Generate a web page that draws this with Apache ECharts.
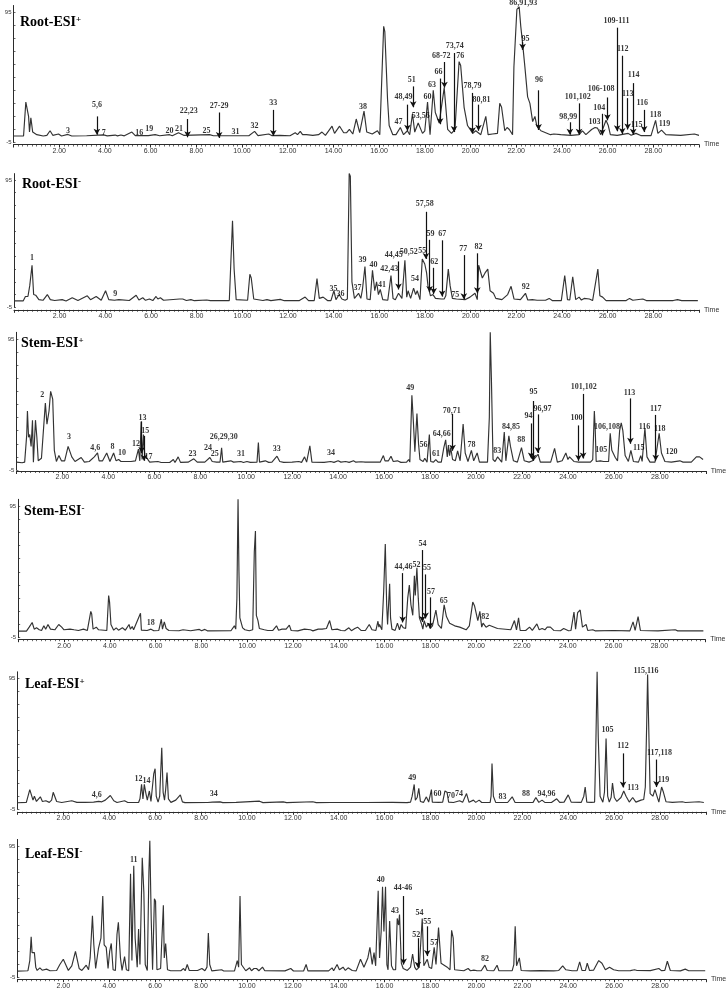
<!DOCTYPE html>
<html><head><meta charset="utf-8">
<style>html,body{margin:0;padding:0;background:#fff}#c{width:727px;height:992px}</style>
<script src="https://cdn.jsdelivr.net/npm/echarts@6/dist/echarts.min.js"></script>
</head><body><div id="c"></div>
<script>
// Traces: flat t,v pairs
const rootPosTrace=[0,0,.44,0,.54,26,.66,15,.7,3,.76,14,.84,3,.92,3,1.02,1,1.3,0,1.38,1.5,1.46,.5,1.6,4,1.72,.5,1.97,1.5,2.1,0,2.38,1.2,2.55,0,3.2,.2,3.94,.8,4.1,.1,4.45,.7,4.55,.1,4.7,.8,4.85,.1,5.18,3,5.33,.3,5.9,.3,6.2,1,6.4,.2,6.83,1,6.95,.2,7.22,2.5,7.45,.5,8.58,1,8.75,.2,10.3,.2,10.55,3.5,10.7,.3,11.17,1.5,11.3,.3,11.65,.5,12.1,.2,12.33,2.5,12.43,1,12.55,3.5,12.65,1,12.73,2,12.82,1,12.9,2,13.1,.5,13.35,1,13.5,3,13.65,.5,13.94,7.5,14.05,2,14.27,7.5,14.45,2.5,14.5,4,14.58,2.5,14.7,5,14.85,1.5,15,13,15.15,2.5,15.34,19,15.46,3,15.7,1.5,15.93,4,16.03,1,16.2,84,16.25,80,16.37,28,16.44,8,16.6,1,16.74,1,16.93,6.5,17.07,1,17.24,4,17.34,1,17.46,17,17.56,3,17.71,10,17.9,2,18,4,18.12,26,18.23,1,18.37,35,18.46,18,18.63,10,18.85,37,19,5,19.17,2,19.32,5,19.5,57,19.57,54,19.72,22,19.87,8,20.1,2,20.23,4,20.45,1,20.67,15,20.77,1,20.96,1.5,21.18,2,21.28,25,21.36,22,21.5,4,21.6,6.5,21.7,5,21.84,1,21.9,53,22.03,97,22.13,99,22.2,84,22.28,71,22.38,53,22.5,30,22.6,25,22.72,11,22.82,15,22.9,8,23.08,4,23.5,1,23.65,1.5,23.95,1,24.4,.5,24.75,1,24.9,4,25.05,1,25.3,5,25.45,6.5,25.56,6,25.7,1,25.93,12,26.03,8,26.12,1,26.42,.5,26.9,2,27.03,.5,27.24,2,27.45,.3,27.9,.3,28.1,12,28.2,2,28.36,4.5,28.55,1,29.2,.5,29.8,1.5,30,.5];
const rootNegTrace=[0,0,.4,0,.5,3.5,.61,3.5,.69,12,.79,28,.86,5,.95,4.5,1.09,1,1.27,.5,1.46,5,1.59,1,1.78,.3,2.11,1,2.28,0,2.55,2.5,2.8,.3,3.21,4,3.35,1,3.6,3.5,3.82,.5,4.01,8,4.15,1,4.4,.5,4.59,1,5.05,.3,5.35,4.5,5.47,.7,5.64,2.5,5.76,.5,5.93,1.5,6.08,.3,6.22,3.5,6.3,1.5,6.41,2.5,6.55,.5,7.25,1.5,7.39,1.5,7.55,.3,7.75,1,7.9,.2,8.44,.7,8.6,.2,9.43,.3,9.57,63,9.64,25,9.73,1,10.23,.5,10.33,21,10.39,18,10.5,1.5,10.9,.3,11.08,1,11.25,.2,11.66,1.2,11.84,.2,12.5,.3,12.75,3,12.9,.3,13.15,.3,13.27,17.5,13.37,2,13.54,3,13.73,.3,13.88,.3,14.01,8,14.1,1,14.24,5,14.36,1.5,14.5,.5,14.6,1.5,14.68,100,14.73,98,14.8,15,14.91,2,15.09,6,15.19,2,15.26,9,15.37,27,15.46,1.5,15.6,1,15.7,24,15.8,8,15.88,15,15.96,5,16.04,9,16.15,1,16.37,.5,16.51,20,16.6,2,16.7,1,16.84,6,16.99,2,17.12,32,17.2,3,17.26,8,17.37,2,17.5,10,17.59,5,17.66,8,17.78,1,17.88,33,17.99,29,18.07,22,18.13,12,18.24,4,18.35,5,18.46,2,18.72,1.5,18.84,1.5,18.91,4,19.02,25,19.1,12,19.2,2,19.38,1.5,19.75,1,19.97,3,20.19,6,20.29,1,20.35,28,20.41,29,20.51,18,20.63,22,20.75,25,20.85,8,21,6,21.1,2,21.37,1,21.62,5,21.77,11.5,21.9,1.5,22.18,1,22.4,6,22.5,.7,22.7,1,22.91,.5,23.28,.5,23.44,2,23.57,.3,23.97,.3,24.12,20,24.24,1,24.34,.7,24.47,19,24.6,1,24.75,3,24.85,.7,24.97,2,25.04,.5,25.2,1.5,25.34,.3,25.57,25,25.66,4,25.78,3,25.93,.3,26.81,.3,26.96,2,27.1,.5,27.54,1.5,27.69,.3,28.87,.3,29.06,1,29.24,.2,29.95,.2];
const stemPosTrace=[0,1,.25,.5,.36,1,.45,22,.48,40,.53,20,.58,22,.64,13,.7,33,.74,1,.83,33,.89,20,.95,2,1.09,4,1.17,5,1.26,46,1.33,30,1.42,40,1.49,55,1.58,49,1.65,10,1.74,1.5,1.85,6,1.96,2,2.1,2,2.25,13,2.32,14,2.41,5,2.55,1.5,2.82,4.5,2.96,1,3.17,1.5,3.39,5,3.53,8,3.6,2,3.75,2,3.93,8,4.07,1.5,4.23,8,4.34,2,4.45,3,4.55,1.5,4.66,1.5,4.99,1.5,5.18,2,5.31,11,5.37,2,5.43,32,5.47,3,5.53,22,5.59,5,5.68,4,5.8,1,6.16,1.5,6.3,.7,6.67,.7,6.83,3,6.9,.7,7.04,5,7.14,.8,7.47,1,7.72,3.5,7.87,1,8.2,1,8.42,4.5,8.52,1.5,8.71,1,8.86,1,8.93,12,8.98,1,9.33,2,9.45,1,9.77,1.5,9.88,.7,10.03,1.5,10.18,.8,10.47,1,10.53,16,10.58,1,10.83,2,10.98,.8,11.12,1,11.34,5.5,11.46,1.5,11.53,3,11.63,.8,12,1,12.29,1.5,12.41,.8,12.54,5,12.63,1,12.77,13.5,12.86,1,13.39,.8,13.68,1.5,13.82,.8,14,2,14.12,1,14.33,1.5,14.48,.8,14.67,2,14.77,1,15,1.3,15.18,1,15.57,1,15.83,1,15.97,6,16.04,2,16.12,2.5,16.19,2,16.3,5.5,16.4,1.5,16.58,2,16.73,.8,16.98,1,17.07,3,17.12,1,17.21,52,17.28,30,17.34,9,17.43,38,17.5,15,17.56,3,17.7,1.5,17.77,4,17.87,1,17.97,22,18.03,1.5,18.15,1,18.25,3,18.35,1,18.42,2,18.49,1,18.6,12,18.68,18,18.75,5,18.8,14,18.85,6,18.9,12,18.98,3,19.1,2,19.2,9.5,19.31,2,19.44,30,19.53,8,19.65,1.5,19.8,10,19.9,2,20.05,8,20.15,1,20.5,1,20.58,35,20.62,100,20.67,65,20.74,3,20.83,1.5,20.94,5,21.12,1,21.23,24,21.3,2,21.43,21,21.5,13,21.55,12,21.63,2,21.8,1,21.98,12,22.1,2,22.31,1,22.46,2,22.53,1,22.7,7,22.8,1,23.25,1,23.42,11.5,23.54,1,23.75,2,23.91,8,24,3,24.07,5,24.26,1.5,24.47,1,24.62,1,24.98,1,25.08,3,25.15,40,25.19,25,25.23,1.5,25.41,2,25.55,1.5,25.62,2,25.77,1.5,25.84,23,25.91,10,26.06,4.5,26.16,2,26.25,25,26.32,31,26.39,25,26.49,6,26.63,1.5,26.74,10,26.85,1.5,27.07,1,27.17,6,27.23,1.5,27.35,27,27.44,5,27.57,1,27.79,1,27.97,23,28.07,8,28.22,1.5,28.5,1,28.87,2,29.01,1,29.37,1,29.59,5,29.73,5,29.88,3];
const stemNegTrace=[0,0,.36,0,.48,3,.61,6.5,.7,1.5,.8,2.5,.92,1,1.02,.5,1.12,4,1.2,1.5,1.3,5,1.41,1.5,1.6,1,1.77,5,1.9,3,2,1,2.26,1.5,2.44,1,2.63,.5,2.85,1.5,3.02,.5,3.17,15,3.21,13,3.27,1.5,3.41,3,3.51,1,3.87,.5,3.95,27,3.99,22,4.05,5,4.17,.7,4.28,2.5,4.38,.7,4.55,2.5,4.68,.7,4.84,5,4.9,1.5,4.98,3.5,5.04,1,5.34,13.5,5.38,.7,5.63,.5,5.8,1.5,5.92,.3,6.14,.5,6.25,9,6.3,1.5,6.38,7,6.46,2,6.58,.5,7.02,.3,7.2,1,7.53,.3,7.91,1.3,8.01,.2,8.15,1.3,8.26,.2,9.29,.3,9.44,4,9.5,1.5,9.55,25,9.6,100,9.64,45,9.68,10,9.73,9,9.8,2.5,9.9,1,10.09,.3,10.24,1,10.31,60,10.36,76,10.4,12,10.47,8,10.53,2,10.75,1,10.9,.5,11.12,.5,11.28,4,11.37,.7,11.52,1.5,11.6,.5,11.7,1.5,11.75,.5,11.84,4.5,11.92,.5,12.21,.2,12.5,1.5,12.58,.2,12.76,1,12.87,.2,13.1,1.5,13.17,.2,13.27,1.5,13.33,.2,13.46,2,13.6,8,13.7,1,13.93,1.5,14.1,.5,14.26,.3,14.44,2.5,14.55,.3,14.7,2,14.82,3,14.97,.5,15.16,.5,15.33,5,15.45,1,15.62,.5,15.71,7.5,15.75,3,15.78,5,15.88,1,15.96,30,16.03,66,16.09,20,16.13,5,16.22,36,16.26,10,16.32,1.5,16.46,.5,16.56,6,16.65,1,16.72,5,16.82,2.5,16.92,2,17.01,25,17.08,35,17.15,20,17.23,12,17.3,42,17.34,27,17.41,48,17.47,25,17.52,10,17.62,5,17.67,1.5,17.73,8,17.82,3,17.93,6,17.99,2,18.09,4,18.24,16,18.34,5,18.48,2,18.6,20,18.7,11,18.84,6,19.06,4,19.28,3,19.56,1,19.7,4,19.85,22,19.93,19,20.07,8,20.16,15,20.24,3,20.3,6,20.43,3,20.57,4.5,20.93,2,21.51,1,21.58,.3,21.67,8,21.76,1,21.85,10,21.92,.5,22.16,.5,22.33,3,22.45,.5,22.65,5.5,22.75,1,22.88,2,23,1,23.1,3,23.24,3,23.39,.5,23.68,.3,23.82,2,24.03,.3,24.14,.5,24.27,14.5,24.34,1.5,24.43,14,24.54,16,24.64,3,24.8,5,24.87,.5,25.09,1,25.19,.2,25.98,.5,26.05,.2,26.71,.2,26.76,.3,26.85,7,26.94,.5,27.07,11,27.17,.5,27.94,.2,28.69,1,28.8,.2,29.92,.2];
const leafPosTrace=[0,0,.39,.3,.46,1,.54,10,.61,6,.68,2,.74,5,.83,1,.9,.8,1,4.5,1.09,1,1.24,1.5,1.39,.3,1.49,2,1.56,8,1.6,8,1.71,1,1.93,.2,2.37,1.5,2.59,.3,2.95,.3,3.32,.5,3.54,1,3.68,.7,3.83,2,4.05,5.5,4.2,1.5,4.34,.2,4.67,1.5,4.81,.2,5.28,.2,5.34,3,5.41,14,5.47,3,5.53,14,5.6,7,5.66,2,5.75,9,5.82,1,5.88,.5,5.94,22,6,26,6.05,5,6.13,.5,6.2,5,6.29,42,6.35,8,6.41,2,6.46,10,6.52,23,6.58,3,6.69,.3,6.9,2,6.98,.5,7.1,6,7.19,.7,7.3,.1,8.29,.2,8.5,.5,8.58,.2,8.83,.7,8.95,.1,9.53,.3,9.61,.1,10.55,1.2,10.7,.1,11.58,.7,11.73,.1,12.87,.8,13.02,.1,13.64,.2,14.07,.2,14.7,.2,15.18,.2,16.33,.3,16.98,.1,17.13,.5,17.2,5,17.29,14,17.34,2,17.42,4,17.49,11,17.56,1,17.7,.3,17.82,4.5,17.92,.5,17.99,2,18.04,10,18.08,.5,18.36,.3,18.53,.5,18.63,9,18.72,8,18.79,.5,19,.2,19.27,1.5,19.4,.3,19.57,7,19.68,.3,19.87,2,19.97,.3,20.12,2,20.23,.2,20.6,.3,20.64,5,20.68,30,20.74,5,20.84,.3,21.17,.2,21.36,.2,21.56,4.5,21.68,.3,22.18,.2,22.47,.3,22.59,4,22.72,.3,22.86,2,22.98,.3,23.27,.2,23.5,3,23.63,.3,23.82,.5,24,6,24.13,.5,24.57,.3,24.68,5,24.74,12,24.81,.5,25,.3,25.15,.5,25.19,30,25.26,100,25.31,50,25.39,5,25.51,.4,25.58,8,25.65,49,25.72,5,25.79,.5,25.87,4,25.93,15,26.01,4,26.12,1,26.3,4,26.42,9,26.52,5,26.66,.5,26.81,4,26.95,.5,27.17,2,27.29,2.5,27.36,12,27.42,60,27.46,98,27.5,65,27.57,7,27.69,5,27.78,10,27.85,11,27.95,.5,28.07,12,28.15,8,28.26,.8,28.54,.3,28.97,.8,29.11,.2,29.7,.8,29.91,.2];
const leafNegTrace=[0,0,.46,.3,.54,8,.6,26,.64,14,.68,14,.74,14,.8,3,.86,.5,.98,2.5,1.08,.7,1.27,1.5,1.42,.3,1.71,.5,1.85,5,2,9,2.07,9,2.22,.5,2.37,4,2.41,3,2.53,15,2.59,15,2.69,2,2.81,.5,3,4.5,3.1,1,3.17,10,3.27,42,3.33,20,3.41,2,3.53,17,3.64,25,3.72,57,3.78,20,3.87,18,3.95,2,4.02,15,4.09,21,4.17,1,4.27,.5,4.34,28,4.4,37,4.49,10,4.56,.5,4.67,11,4.75,1,4.85,.3,4.93,74,4.99,8,5.07,80,5.13,25,5.22,3,5.28,32,5.34,5,5.44,86,5.51,60,5.57,5,5.66,.5,5.73,75,5.77,99,5.83,40,5.89,1,5.97,55,6.02,53,6.08,1,6.24,2,6.36,50,6.4,10,6.46,21,6.54,1,6.68,.3,7.12,.3,7.24,2,7.31,.3,7.4,5,7.49,.5,7.85,.5,8.04,2,8.17,.3,8.26,3,8.32,29,8.38,5,8.47,.2,8.9,1,8.99,.1,9.46,.2,9.58,8,9.64,3,9.7,57,9.76,5,9.83,4,9.95,.3,10.12,2.5,10.2,.3,10.31,2,10.42,2,10.52,.3,10.68,3,10.78,.3,11.66,.2,11.91,2,12.03,.1,12.47,.1,12.58,5,12.66,.2,13.56,.2,13.71,2.5,13.78,.3,13.93,5,14.03,1,14.19,3,14.29,.5,14.41,2.5,14.59,.5,14.76,.2,14.95,9,15.1,3,15.17,2,15.27,10,15.36,18,15.46,5,15.54,14,15.61,4,15.68,3,15.72,61,15.78,10,15.85,30,15.91,64,15.97,30,16.04,64,16.1,5,16.15,1,16.22,38,16.3,4,16.38,1,16.48,1,16.55,40,16.61,35,16.65,43,16.73,6,16.81,2,16.99,.5,17.13,3,17.22,13,17.31,3,17.39,1,17.51,3,17.64,40,17.71,4,17.86,9,17.94,3,18.05,2,18.16,18,18.24,5,18.35,33,18.46,6,18.73,3,18.85,1,18.92,31,18.99,25,19.05,1,19.45,.3,19.64,2,19.74,.3,19.89,.7,20.03,.3,20.21,.3,20.37,4.5,20.47,.5,20.76,.3,20.9,4.5,20.98,.3,21.56,.3,21.63,5,21.69,34,21.75,4,21.79,3,21.87,10,21.95,.5,22.36,.2,22.79,.4,23.37,.2,23.59,.5,23.76,4,23.9,1,23.98,1.5,24.17,.3,24.39,.4,24.5,7,24.6,.5,24.75,.5,24.83,6,24.93,.5,25.11,.8,25.33,8,25.47,6,25.62,1,25.8,3,25.98,1,26.2,.3,26.71,.4,26.89,1,27,.5,27.58,.4,27.95,2,28.06,.4,28.21,.5,28.32,7.5,28.45,.5,28.89,.2,29.1,1.5,29.25,.3,29.97,.3];

// Peak labels: text, t, value
const rootPosLabels=[['3',2.39,4],['5,6',3.65,23.6],['7',3.95,2.5],['16',5.5,2],['19',5.94,5.5],['20',6.83,4],['21',7.24,5.4],['22,23',7.67,19],['25',8.45,4],['27-29',9,23],['31',9.72,2.8],['32',10.55,7.7],['33',11.37,25],['38',15.3,22.5],['47',16.85,11],['48,49',17.07,30],['51',17.43,43],['53,56',17.82,15.4],['60',18.12,30],['63',18.32,39],['66',18.6,49],['68-72',18.72,61.5],['73,74',19.31,68.7],['76',19.55,61],['78,79',20.09,38.7],['80,81',20.48,28],['86,91,93',22.31,102],['95',22.41,74],['96',23,43],['98,99',24.28,14.6],['101,102',24.69,30],['103',25.43,11],['104',25.64,21.5],['106-108',25.72,36],['109-111',26.39,88],['112',26.66,67],['113',26.88,32.5],['114',27.14,47],['115',27.27,8.5],['116',27.52,25],['118',28.1,16.4],['119',28.49,9.5]];
const rootNegLabels=[['1',.79,34],['9',4.43,5.2],['35',13.99,9.4],['36',14.3,5.8],['37',15.04,10],['39',15.26,32],['40',15.74,28],['41',16.12,12.5],['42,43',16.43,25],['44,45',16.63,36],['50,52',17.29,38.7],['55',17.88,39],['54',17.56,17.5],['57,58',17.99,76],['59',18.24,53],['62',18.4,31],['67',18.76,53],['75',19.32,5],['77',19.68,40.6],['82',20.34,42.4],['92',22.41,10.7]];
const stemPosLabels=[['2',1.12,52],['3',2.29,20],['4,6',3.43,12],['8',4.18,12.7],['10',4.6,8],['12',5.2,15],['13',5.49,35],['15',5.61,25],['17',5.75,5],['23',7.66,7],['24',8.34,11.5],['25',8.63,7.4],['26,29,30',9.02,20],['31',9.77,7.4],['33',11.33,11],['34',13.69,8],['49',17.14,57.8],['56',17.71,14],['61',18.26,7.4],['64,66',18.51,22.6],['70,71',18.95,40],['78',19.8,14],['83',20.93,9.7],['84,85',21.52,28],['88',21.97,18],['94',22.28,36],['95',22.5,54.7],['96,97',22.89,41.5],['100',24.37,35],['101,102',24.69,58],['105',25.45,10.4],['106,108',25.7,27.5],['113',26.68,54],['115',27.08,11.5],['116',27.33,27.5],['117',27.82,41.7],['118',28,26.5],['120',28.51,9]];
const stemNegLabels=[['18',5.79,6],['44,46',16.82,49],['52',17.39,50],['54',17.65,66],['55',17.85,48],['57',18.03,30],['65',18.58,23],['82',20.39,10.4]];
const leafPosLabels=[['4,6',3.46,6],['12',5.28,18],['14',5.62,17],['34',8.56,7],['49',17.21,19],['60',18.31,7],['70',18.89,5],['74',19.24,7],['83',21.14,4.6],['88',22.16,6.6],['94,96',23.05,6.4],['105',25.71,55.5],['112',26.39,43.5],['113',26.82,11],['115,116',27.39,100.5],['117,118',27.98,38.4],['119',28.15,17.6]];
const leafNegLabels=[['11',5.07,84.6],['40',15.83,69.6],['43',16.45,45.8],['44-46',16.8,62.8],['52',17.38,27.6],['54',17.52,44],['55',17.86,37.5],['57',18.16,21.5],['82',20.37,8.9]];

// Arrows: t, value at tail, value at head
const rootPosArrows=[[3.65,15,1],[7.62,13,-1],[9,18,-1.5],[11.37,20,0],[17.24,24,4],[17.49,38,22],[18.67,44,9],[18.86,56.7,37],[19.28,63.6,3],[20.09,33,2],[20.35,24,4],[22.28,72,66],[22.98,35,4.6],[24.35,10.5,1],[24.75,25,1],[25.77,17,.5],[25.99,29.5,12],[26.42,83,3.6],[26.64,61.5,1.5],[26.88,29,5],[27.12,40.5,1],[27.6,20,3]];
const rootNegArrows=[[16.84,31,9],[18.04,70,33],[18.2,48,7],[18.38,26,5.5],[18.75,47.6,3.4],[19.7,36,1.3],[20.29,37.4,6]];
const stemPosArrows=[[5.45,32,8],[5.55,21,2],[18.98,37.7,9.7],[22.4,30.5,3.8],[22.48,47.6,2],[22.69,37.4,8],[24.46,29,2],[24.66,53,3.8],[26.72,49.6,15],[27.82,37,2]];
const stemNegArrows=[[16.79,44,6.6],[17.65,61.5,7],[17.79,43,9.6],[17.98,25.6,2]];
const leafPosArrows=[[26.39,37.7,11.7],[27.85,33,12]];
const leafNegArrows=[[16.83,57,5],[17.45,25,2.5],[17.86,34,11.4]];

const panelNames=[['Root-ESI','+'],['Root-ESI','-'],['Stem-ESI','+'],['Stem-ESI','-'],['Leaf-ESI','+'],['Leaf-ESI','-']];
const traces=[rootPosTrace,rootNegTrace,stemPosTrace,stemNegTrace,leafPosTrace,leafNegTrace];
const labelSets=[rootPosLabels,rootNegLabels,stemPosLabels,stemNegLabels,leafPosLabels,leafNegLabels];
const arrowSets=[rootPosArrows,rootNegArrows,stemPosArrows,stemNegArrows,leafPosArrows,leafNegArrows];
const timeLabels=['2.00','4.00','6.00','8.00','10.00','12.00','14.00','16.00','18.00','20.00','22.00','24.00','26.00','28.00'];
const yTickLabels=[-5,95];
const yTicks=[-5,5,15,25,35,45,55,65,75,85,95];

const layout=[
 {left:13.5,width:685.5,top:5.5,height:137,off:2,tx:20,ty:15},
 {left:14,width:685,top:173.6,height:133.7,off:2.5,tx:22,ty:177},
 {left:16.4,width:689.4,top:332.3,height:137.7,off:1,tx:21,ty:336},
 {left:18.2,width:687,top:499.3,height:138.4,off:1.5,tx:24,ty:504},
 {left:17.4,width:688.5,top:671.8,height:137.5,off:2.5,tx:25,ty:677},
 {left:17.4,width:688.5,top:839.4,height:138.3,off:1.5,tx:25,ty:847}
];
const ink='#2b2b2b';
const pairs=a=>{const o=[];for(let i=0;i<a.length;i+=2)o.push([a[i],a[i+1]]);return o;};
const option={animation:false,backgroundColor:'#fff',grid:[],xAxis:[],yAxis:[],series:[],title:[]};
layout.forEach((g,i)=>{
 option.grid.push({left:g.left,top:g.top,width:g.width,height:g.height,containLabel:false,outerBoundsMode:'none'});
 option.title.push({left:g.tx,top:g.ty,padding:0,
   text:'{m|'+panelNames[i][0]+'}{s|'+panelNames[i][1]+'}',
   textStyle:{rich:{m:{fontFamily:'Liberation Serif',fontWeight:'bold',fontSize:14,color:'#000'},
                    s:{fontFamily:'Liberation Serif',fontWeight:'bold',fontSize:9,color:'#000',verticalAlign:'top',padding:[0,0,5,0]}}}});
 option.xAxis.push({type:'value',gridIndex:i,min:0,max:30,interval:2,offset:g.off,
   axisLine:{onZero:false,lineStyle:{color:ink,width:1}},
   axisTick:{length:3,lineStyle:{color:ink,width:1}},
   minorTick:{show:true,splitNumber:10,length:2,lineStyle:{color:ink,width:.7}},
   splitLine:{show:false},
   name:'Time',nameLocation:'end',nameGap:5,nameTextStyle:{fontFamily:'Liberation Sans',fontSize:7,color:'#333'},
   axisLabel:{fontFamily:'Liberation Sans',fontSize:7,color:'#333',margin:3,showMinLabel:false,showMaxLabel:false,
     formatter:v=>timeLabels[v/2-1]||''}});
 option.yAxis.push({type:'value',gridIndex:i,min:-5,max:100,
   axisLine:{onZero:false,lineStyle:{color:ink,width:1}},
   axisTick:{show:true,inside:true,length:2,customValues:yTicks,lineStyle:{color:ink,width:.7}},
   splitLine:{show:false},
   name:'%',nameLocation:'middle',nameRotate:90,nameGap:7,nameTextStyle:{fontFamily:'Liberation Sans',fontSize:7,color:'#333'},
   axisLabel:{customValues:yTickLabels,fontFamily:'Liberation Sans',fontSize:6,color:'#333',margin:2}});
 option.series.push({type:'line',xAxisIndex:i,yAxisIndex:i,data:pairs(traces[i]),showSymbol:false,symbol:'none',smooth:false,clip:false,
   lineStyle:{color:'#333',width:1.15},z:2,
   markLine:{silent:true,animation:false,symbol:['none','arrow'],symbolSize:[5,6],label:{show:false},precision:4,
     lineStyle:{color:'#111',width:1.2,type:'solid'},
     data:arrowSets[i].map(a=>[{coord:[a[0],a[1]]},{coord:[a[0],a[2]]}])}});
 option.series.push({type:'scatter',xAxisIndex:i,yAxisIndex:i,clip:false,symbolSize:1,itemStyle:{color:'rgba(0,0,0,0)'},z:5,silent:true,
   data:labelSets[i].map(l=>({name:l[0],value:[l[1],l[2]]})),
   label:{show:true,position:'inside',distance:0,formatter:p=>p.name,fontFamily:'Liberation Serif',fontWeight:'bold',fontSize:8,color:'#000'}});
});
echarts.init(document.getElementById('c'),null,{renderer:'canvas'}).setOption(option);
</script></body></html>
